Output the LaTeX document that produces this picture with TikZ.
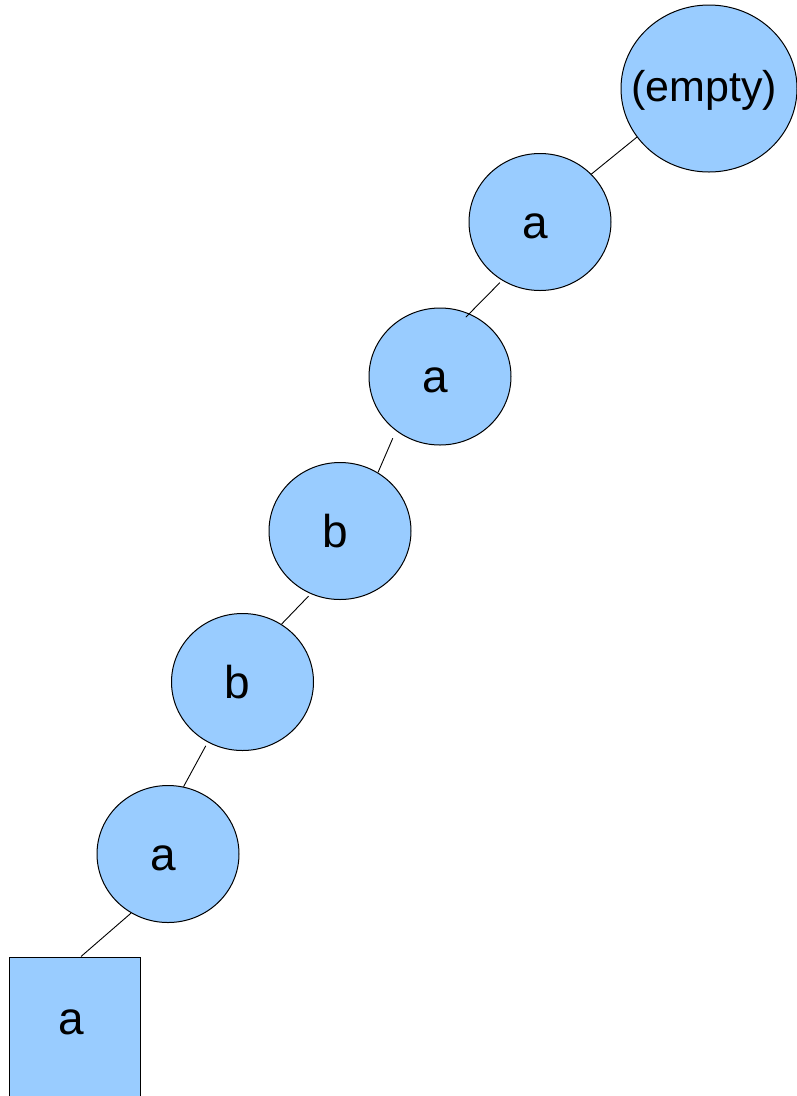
\documentclass[tikz,border=0pt]{standalone}
\usepackage{fontspec}
\setmainfont{Liberation Sans}
\usetikzlibrary{shapes.geometric}
\definecolor{nodeblue}{HTML}{99CCFF}
\newcommand\shiftlbl[1]{\makebox[0pt]{#1\hspace*{10pt}}}
\begin{document}
\begin{tikzpicture}[x=1pt,y=-1pt,
  vert/.style={ellipse, draw=black, line width=1pt, fill=nodeblue,
    minimum width=142pt, minimum height=137pt, inner sep=0pt,
    text height=32pt, text depth=0pt,
    font=\fontsize{46}{54}\selectfont},
  leafbox/.style={rectangle, draw=black, line width=1pt, fill=nodeblue,
    minimum width=131pt, minimum height=148pt, inner sep=0pt,
    text height=24pt, text depth=17pt, font=\fontsize{46}{54}\selectfont},
  link/.style={draw=black, line width=0.9pt}]
\useasboundingbox (0,0) rectangle (797,1096);
\fill[white] (0,0) rectangle (797,1096);
\node[vert, minimum width=176pt, minimum height=167pt, text height=26pt,
  font=\fontsize{43}{50}\selectfont] (root) at (709,88.5) {\shiftlbl{(empty)}};
\node[vert] (n1) at (540,222) {\shiftlbl{a}};
\node[vert] (n2) at (440,376.5) {\shiftlbl{a}};
\node[vert] (n3) at (340,531) {\shiftlbl{b}};
\node[vert] (n4) at (242.5,682) {\shiftlbl{b}};
\node[vert] (n5) at (168,854) {\shiftlbl{a}};
\node[leafbox] (leaf) at (74.5,1031) {\makebox[0pt]{a\hspace*{6pt}}};
\draw[link] (root.214) -- (n1.43);
\draw[link, shorten <=3pt, shorten >=-5pt] (n1.237) -- (n2.65);
\draw[link, shorten <=8pt] (n2.231) -- (n3.57);
\draw[link, shorten <=3pt] (n3.245) -- (n4.56);
\draw[link, shorten <=4pt] (n4.240) -- (n5.77);
\draw[link] (n5.238) -- (leaf.85);
\end{tikzpicture}
\end{document}
